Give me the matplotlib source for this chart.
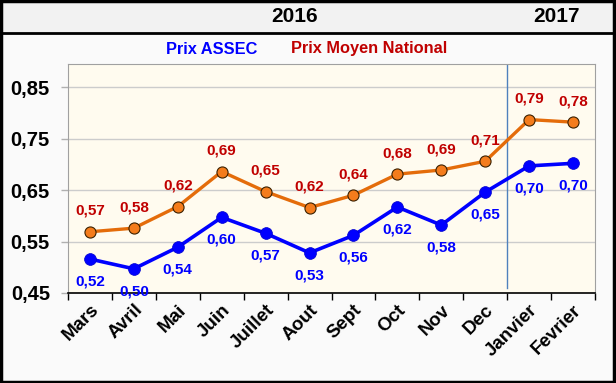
import matplotlib.pyplot as plt
from matplotlib.patches import Rectangle
from matplotlib.lines import Line2D

plt.rcParams['font.family'] = ['Liberation Sans', 'DejaVu Sans']
plt.rcParams['font.weight'] = 'bold'

months = ['Mars', 'Avril', 'Mai', 'Juin', 'Juillet', 'Aout', 'Sept', 'Oct',
          'Nov', 'Dec', 'Janvier', 'Fevrier']
prix_assec = [0.516, 0.497, 0.539, 0.597, 0.566, 0.528, 0.562, 0.617,
              0.582, 0.646, 0.697, 0.702]
prix_national = [0.569, 0.576, 0.618, 0.686, 0.647, 0.616, 0.640, 0.681,
                 0.689, 0.706, 0.787, 0.782]
y_ticks = [0.45, 0.55, 0.65, 0.75, 0.85]


def fmt(v):
    return f'{v:.2f}'.replace('.', ',')


fig = plt.figure(figsize=(6.16, 3.83), dpi=100, facecolor='#fafafa')

# header band + borders
fig.add_artist(Rectangle((0, 1 - 33 / 383), 1, 33 / 383, transform=fig.transFigure,
                         facecolor='#f2f2f2', edgecolor='none', zorder=0))
fig.add_artist(Line2D([0, 1], [1 - 33 / 383] * 2, transform=fig.transFigure,
                      color='black', lw=2))
fig.add_artist(Rectangle((0.002, 0.003), 0.995, 0.994, transform=fig.transFigure,
                         facecolor='none', edgecolor='black', lw=2.5))

fig.text(295 / 616, 1 - 17 / 383, '2016', ha='center', va='center', fontsize=15)
fig.text(556 / 616, 1 - 17 / 383, '2017', ha='center', va='center', fontsize=15)
fig.text(212 / 616, 1 - 49 / 383, 'Prix ASSEC', ha='center', va='center',
         fontsize=11.8, color='#0000ff')
fig.text(369 / 616, 1 - 49 / 383, 'Prix Moyen National', ha='center', va='center',
         fontsize=11.8, color='#c00000')

ax = fig.add_axes([68 / 616, 90 / 383, 527 / 616, 229 / 383])
ax.set_facecolor('#fffbef')
x = list(range(len(months)))

ax.plot(x, prix_national, color='#e46c0a', lw=2.4, marker='o', ms=8,
        mfc='#f47c1c', mec='#3a2000', mew=0.8, zorder=3)
ax.plot(x, prix_assec, color='#0000ff', lw=2.6, marker='o', ms=8.5,
        mfc='#0000ff', mec='#0000cc', mew=0.5, zorder=3)

for i, v in enumerate(prix_national):
    ax.annotate(fmt(v), (i, v), xytext=(0, 15), textcoords='offset points',
                ha='center', va='center', fontsize=11, color='#c00000')
for i, v in enumerate(prix_assec):
    ax.annotate(fmt(v), (i, v), xytext=(0, -16), textcoords='offset points',
                ha='center', va='center', fontsize=11, color='#0000ff',
                annotation_clip=False)

ax.axvline(9.5, ymin=0.02, ymax=1, color='#4f81bd', lw=1, zorder=2)

ax.set_xlim(-0.5, len(months) - 0.5)
ax.set_ylim(0.45, 0.895)
ax.set_yticks(y_ticks)
ax.set_yticklabels([fmt(v) for v in y_ticks], fontsize=14.5)
ax.yaxis.grid(True, color='#cccccc', lw=1)
ax.set_axisbelow(True)

ax.set_xticks([i - 0.5 for i in range(len(months) + 1)], minor=False)
ax.set_xticklabels([])
ax.set_xticks(x, minor=True)
ax.set_xticklabels(months, minor=True, rotation=45, ha='right',
                   rotation_mode='anchor', fontsize=13.5)
ax.tick_params(axis='x', which='major', length=5, width=1, color='black',
               direction='out')
ax.tick_params(axis='x', which='minor', length=0, pad=6)
ax.tick_params(axis='y', length=5, width=1, color='#b0b0b0', pad=8)

for s in ['top', 'right', 'left']:
    ax.spines[s].set_color('#a0a0a0')
ax.spines['bottom'].set_color('black')
ax.spines['bottom'].set_linewidth(1.2)

fig.savefig('out.png', dpi=100, facecolor=fig.get_facecolor())
